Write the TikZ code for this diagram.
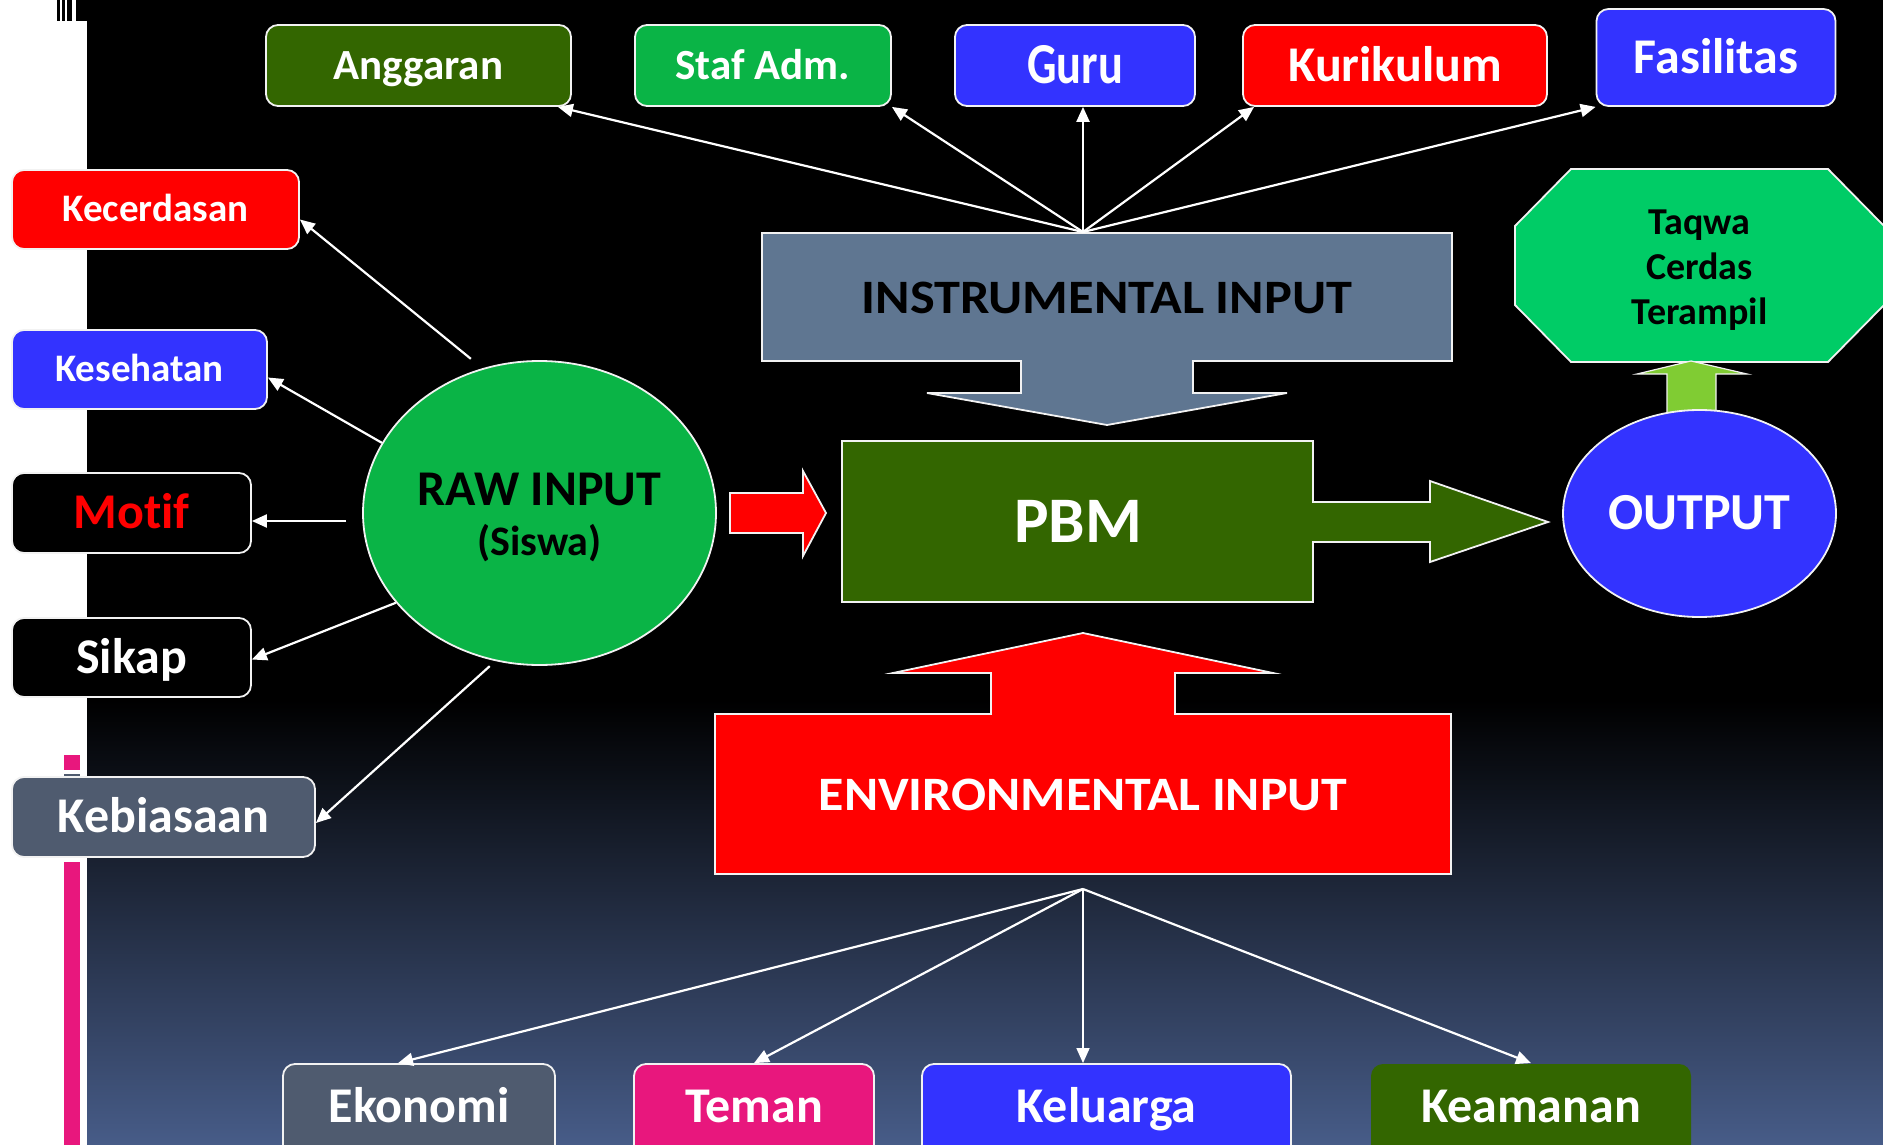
\documentclass[tikz,border=0pt]{standalone}
\usepackage{fontspec}
\setmainfont{Carlito}[Ligatures=CommonOff]
\usepackage{graphicx}
\usetikzlibrary{arrows.meta,shapes.geometric,calc}
\definecolor{dgreen}{HTML}{336600}
\definecolor{mgreen}{HTML}{0AB446}
\definecolor{bblue}{HTML}{3333FF}
\definecolor{bred}{HTML}{FF0000}
\definecolor{slateg}{HTML}{4F5B6F}
\definecolor{instrc}{HTML}{5F7691}
\definecolor{octc}{HTML}{00CC66}
\definecolor{lgreen}{HTML}{80CC33}
\definecolor{pinkc}{HTML}{E8177D}
\definecolor{bgbot}{RGB}{71,92,136}
\definecolor{bord}{HTML}{F2F2F2}
\newcommand{\fz}[1]{\fontsize{#1}{#1}\selectfont\bfseries}
\newcommand{\stacklines}[2]{\vbox{\baselineskip=#1\lineskiplimit=-100pt\lineskip=0pt\halign{\hfil##\hfil\cr#2\crcr}}}
\tikzset{
  box/.style={rounded corners=12pt, draw=bord, line width=1.8pt, inner sep=0pt, text=white, text depth=0pt},
  f39/.style={font=\fz{39}, text height=24.6pt},
  f43/.style={font=\fz{43}, text height=27.2pt},
  f50/.style={font=\fz{50}, text height=31.6pt},
  con/.style={draw=white, line width=2.2pt, -{Triangle[length=15pt,width=13pt]}},
  shapeline/.style={draw=bord, line width=1.8pt},
  bigtext/.style={inner sep=0pt, text depth=0pt}
}
\begin{document}
\begin{tikzpicture}[x=1pt,y=-1pt]
\useasboundingbox (0,0) rectangle (1883,1145);
% background
\fill[white] (0,0) rectangle (87,1145);
\fill[black] (87,0) rectangle (1883,701);
\shade[top color=black, bottom color=bgbot] (87,700) rectangle (1883,1145);
\fill[black] (57,0) rectangle (59.5,21);
\fill[black] (62,0) rectangle (65,21);
\fill[black] (67,0) rectangle (72,21);
\fill[black] (76,0) rectangle (87,21);
\fill[pinkc] (64,755) rectangle (80,770);
\fill[slateg] (64,774) rectangle (80,776);
\fill[pinkc] (64,862) rectangle (80,1145);

% block arrows
\draw[shapeline, fill=instrc] (762,233) -- (1452,233) -- (1452,361) -- (1193,361) -- (1193,393) -- (1287,393) -- (1107,425) -- (927,393) -- (1021,393) -- (1021,361) -- (762,361) -- cycle;
\draw[shapeline, fill=dgreen] (842,441) -- (1313,441) -- (1313,502) -- (1430,502) -- (1430,481) -- (1548,522) -- (1430,562) -- (1430,542) -- (1313,542) -- (1313,602) -- (842,602) -- cycle;
\draw[shapeline, fill=bred] (730,493) -- (803,493) -- (803,471) -- (826,513) -- (803,556) -- (803,533) -- (730,533) -- cycle;
\draw[shapeline, fill=bred] (715,714) -- (991,714) -- (991,673) -- (893,673) -- (1083,633) -- (1273,673) -- (1175,673) -- (1175,714) -- (1451,714) -- (1451,874) -- (715,874) -- cycle;
\draw[shapeline, fill=octc] (1571,169) -- (1828,169) -- (1884,226) -- (1884,305) -- (1828,362) -- (1571,362) -- (1515,305) -- (1515,226) -- cycle;
\draw[draw=bord, line width=1.2pt, fill=lgreen] (1667,414) -- (1667,374) -- (1637,374) -- (1691,361) -- (1747,374) -- (1716,374) -- (1716,414);

% central texts
\node[bigtext, font=\fz{48}, text height=30.3pt, text=black] (instr) at (1107,298) {\scalebox{1.09}[1]{INSTRUMENTAL INPUT}};
\node[bigtext, font=\fz{48}, text height=30.3pt, text=white] (env) at (1083,795) {\scalebox{1.08}[1]{ENVIRONMENTAL INPUT}};
\node[bigtext, font=\fz{65}, text height=41.1pt, text=white] (pbm) at (1078,522) {PBM};
\node[bigtext, font=\fz{38}, text height=117pt, text=black] (oct) at (1699.5,265.5) {\stacklines{45pt}{Taqwa\cr Cerdas\cr Terampil}};

% ellipses
\node[ellipse, draw=bord, line width=1.8pt, fill=mgreen, minimum width=353pt, minimum height=304pt, inner sep=0pt, text=black, font=\fz{50}, text height=84pt, text depth=0pt] (raw) at (539.5,513) {\stacklines{50pt}{RAW INPUT\cr\fontsize{42}{50}\selectfont(Siswa)}};
\node[ellipse, draw=bord, line width=1.8pt, fill=bblue, minimum width=273pt, minimum height=207pt, inner sep=0pt, text=white, font=\fz{52}, text height=32.9pt, text depth=0pt] (out) at (1699.5,513.5) {OUTPUT};

% top boxes
\node[box, f43, fill=dgreen, minimum width=305pt, minimum height=81pt] (ang) at (418.5,65.5) {Anggaran};
\node[box, f43, fill=mgreen, minimum width=256pt, minimum height=81pt] (staf) at (763,65.5) {Staf Adm.};
\node[box, font=\fz{58}, text height=36.7pt, fill=bblue, minimum width=240pt, minimum height=81pt] (guru) at (1075,65.5) {\scalebox{0.8}[1]{Guru}};
\node[box, f50, fill=bred, minimum width=304pt, minimum height=81pt] (kur) at (1395,65.5) {Kurikulum};
\node[box, f50, fill=bblue, minimum width=239pt, minimum height=97pt] (fas) at (1716,57.5) {Fasilitas};

% left boxes
\node[box, f39, fill=bred, minimum width=287pt, minimum height=79pt] (kec) at (155.5,209.5) {Kecerdasan};
\node[box, f39, fill=bblue, minimum width=255pt, minimum height=79pt] (kes) at (139.5,369.5) {Kesehatan};
\node[box, f50, fill=black, text=bred, minimum width=239pt, minimum height=80pt] (mot) at (131.5,513) {Motif};
\node[box, f50, fill=black, minimum width=239pt, minimum height=79pt] (sik) at (131.5,657.5) {Sikap};
\node[box, f50, fill=slateg, minimum width=303pt, minimum height=80pt] (keb) at (163.5,817) {Kebiasaan};

% bottom boxes
\node[box, f50, text depth=20pt, fill=slateg, minimum width=272pt, minimum height=106pt] (eko) at (419,1117) {Ekonomi};
\node[box, f50, text depth=20pt, fill=pinkc, minimum width=240pt, minimum height=106pt] (tem) at (754,1117) {Teman};
\node[box, f50, text depth=20pt, fill=bblue, minimum width=369pt, minimum height=106pt] (kel) at (1106.5,1117) {Keluarga};
\node[box, f50, text depth=20pt, draw=none, fill=dgreen, minimum width=320pt, minimum height=106pt] (kea) at (1531,1117) {Keamanan};

% connectors
\coordinate (itop) at (1083,232);
\draw[con] (itop) -- ([xshift=-14pt]ang.south east);
\draw[con] (itop) -- (staf.south east);
\draw[con] (itop) -- ([xshift=8pt]guru.south);
\draw[con] (itop) -- ([xshift=12pt]kur.south west);
\draw[con] (itop) -- (fas.south west);

\coordinate (ebot) at (1083,889);
\draw[con] (ebot) -- ([xshift=-21pt]eko.north);
\draw[con] (ebot) -- (tem.north);
\draw[con, line width=1.5pt] (ebot) -- ([xshift=-23.5pt]kel.north);
\draw[con] (ebot) -- (kea.north);

\draw[con] ($(raw.center)!1.08!(raw.114)$) -- ([yshift=-10pt]kec.east);
\draw[con] (raw.156) -- ([yshift=-8pt]kes.east);
\draw[con] ([xshift=-16pt,yshift=-8pt]raw.west) -- ([yshift=-8pt]mot.east);
\draw[con] (raw.212) -- ([yshift=-2pt]sik.east);
\draw[con] ($(raw.center)!1.04!(raw.252)$) -- ([yshift=-6pt]keb.east);
\end{tikzpicture}
\end{document}
